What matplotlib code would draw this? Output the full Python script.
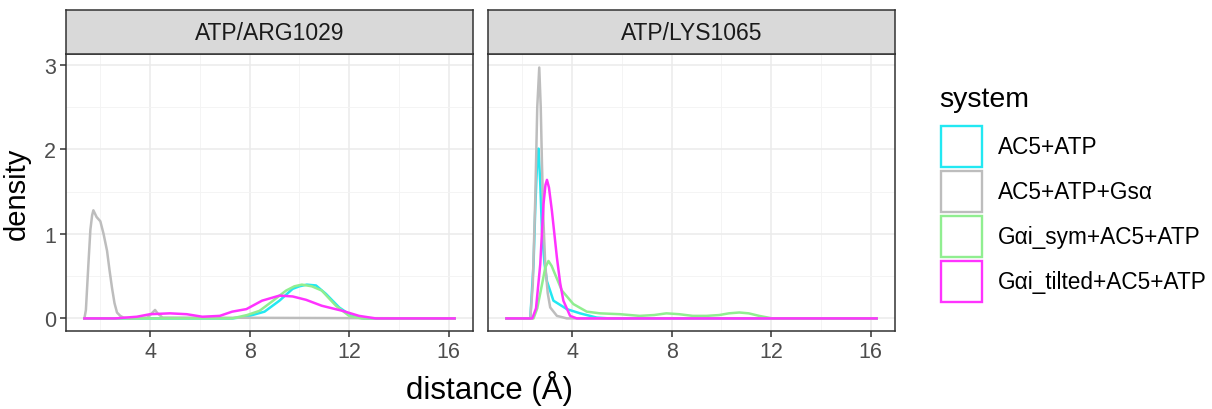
import matplotlib
matplotlib.use("Agg")
import matplotlib.pyplot as plt
from matplotlib.patches import Rectangle
from matplotlib.ticker import MultipleLocator

plt.rcParams['font.family'] = ['Liberation Sans', 'DejaVu Sans']

panels = ["ATP/ARG1029", "ATP/LYS1065"]
systems = ["AC5+ATP", "AC5+ATP+Gs\u03b1", "G\u03b1i_sym+AC5+ATP", "G\u03b1i_tilted+AC5+ATP"]
colors = ["#22E8F2", "#BDBDBD", "#90EE90", "#FF33FF"]

# ATP/ARG1029 density curves (x, y)
arg_cyan_x = [1.36, 7.3, 7.87, 8.6, 9.2, 9.73, 10.0, 10.3, 10.67, 11.07, 11.6, 12.1, 12.6, 16.24]
arg_cyan_y = [0.0, 0.0, 0.02, 0.08, 0.21, 0.35, 0.38, 0.40, 0.39, 0.29, 0.13, 0.03, 0.0, 0.0]
arg_gray_x = [1.36, 1.42, 1.52, 1.6, 1.67, 1.72, 1.85, 2.0, 2.13, 2.27, 2.37, 2.47, 2.57, 2.67, 2.8, 2.93, 3.2, 3.9, 4.1, 4.2, 4.3, 4.5, 16.24]
arg_gray_y = [0.0, 0.1, 0.64, 1.05, 1.22, 1.28, 1.2, 1.15, 1.0, 0.8, 0.57, 0.36, 0.18, 0.07, 0.03, 0.01, 0.0, 0.01, 0.07, 0.1, 0.06, 0.01, 0.0]
arg_green_x = [1.36, 7.3, 7.9, 8.4, 8.9, 9.47, 9.8, 10.1, 10.5, 10.9, 11.47, 12.0, 12.5, 16.24]
arg_green_y = [0.0, 0.0, 0.04, 0.09, 0.2, 0.33, 0.38, 0.40, 0.38, 0.33, 0.15, 0.03, 0.0, 0.0]
arg_mag_x = [1.36, 2.6, 3.47, 4.0, 4.8, 5.47, 6.1, 6.8, 7.3, 7.87, 8.5, 9.2, 9.73, 10.27, 10.9, 11.73, 12.4, 13.07, 16.24]
arg_mag_y = [0.0, 0.0, 0.02, 0.05, 0.06, 0.05, 0.02, 0.03, 0.08, 0.11, 0.21, 0.27, 0.26, 0.22, 0.15, 0.09, 0.03, 0.0, 0.0]

# ATP/LYS1065 density curves (x, y)
lys_cyan_x = [1.36, 2.32, 2.45, 2.52, 2.59, 2.65, 2.72, 2.79, 2.89, 2.99, 3.25, 3.79, 4.32, 4.99, 5.5, 16.24]
lys_cyan_y = [0.0, 0.0, 0.64, 1.3, 1.82, 2.01, 1.6, 1.03, 0.65, 0.44, 0.21, 0.11, 0.06, 0.01, 0.0, 0.0]
lys_gray_x = [1.36, 2.32, 2.42, 2.52, 2.6, 2.68, 2.74, 2.79, 2.85, 2.92, 3.02, 3.12, 3.39, 3.79, 16.24]
lys_gray_y = [0.0, 0.0, 0.4, 1.42, 2.5, 2.97, 2.5, 1.82, 1.15, 0.64, 0.3, 0.13, 0.03, 0.0, 0.0]
lys_green_x = [1.36, 2.45, 2.6, 2.79, 2.92, 3.05, 3.18, 3.32, 3.59, 4.05, 4.59, 5.12, 5.92, 6.72, 7.3, 7.79, 8.3, 8.85, 9.4, 9.92, 10.3, 10.72, 11.1, 11.52, 12.05, 16.24]
lys_green_y = [0.0, 0.0, 0.12, 0.40, 0.6, 0.68, 0.62, 0.52, 0.33, 0.17, 0.08, 0.06, 0.05, 0.03, 0.04, 0.06, 0.05, 0.03, 0.03, 0.04, 0.06, 0.07, 0.06, 0.03, 0.0, 0.0]
lys_mag_x = [1.36, 2.4, 2.55, 2.72, 2.85, 2.93, 2.99, 3.07, 3.19, 3.39, 3.52, 3.65, 3.92, 4.19, 16.24]
lys_mag_y = [0.0, 0.0, 0.12, 0.64, 1.35, 1.58, 1.64, 1.55, 1.27, 0.72, 0.42, 0.21, 0.03, 0.0, 0.0]

curves = [
    [(arg_cyan_x, arg_cyan_y), (arg_gray_x, arg_gray_y), (arg_green_x, arg_green_y), (arg_mag_x, arg_mag_y)],
    [(lys_cyan_x, lys_cyan_y), (lys_gray_x, lys_gray_y), (lys_green_x, lys_green_y), (lys_mag_x, lys_mag_y)],
]

x_ticks = [4, 8, 12, 16]
y_ticks = [0, 1, 2, 3]

W, H = 1212, 410
fig = plt.figure(figsize=(W / 100, H / 100), dpi=100)

panel_px = [(66, 473), (488, 895)]
top_px, bot_px = 55, 332
strip_top = 11

for i, (x0, x1) in enumerate(panel_px):
    ax = fig.add_axes([x0 / W, 1 - bot_px / H, (x1 - x0) / W, (bot_px - top_px) / H])
    ax.set_xlim(0.62, 16.98)
    ax.set_ylim(-0.149, 3.13)
    ax.set_facecolor("white")
    ax.xaxis.set_major_locator(MultipleLocator(4))
    ax.xaxis.set_minor_locator(MultipleLocator(2))
    ax.yaxis.set_major_locator(MultipleLocator(1))
    ax.yaxis.set_minor_locator(MultipleLocator(0.5))
    ax.set_xticks(x_ticks)
    ax.set_yticks(y_ticks)
    ax.grid(which="major", color="#EBEBEB", lw=1.1)
    ax.grid(which="minor", color="#F3F3F3", lw=0.6)
    ax.set_axisbelow(True)
    ax.tick_params(which="minor", length=0)
    ax.tick_params(which="major", length=4, width=1.1, color="#333333",
                   labelsize=15.5, labelcolor="#4D4D4D", pad=3)
    if i > 0:
        ax.tick_params(axis="y", which="both", left=False, labelleft=False)
    for s in ax.spines.values():
        s.set_color("#333333")
        s.set_linewidth(1.1)
    for (xs, ys), c in zip(curves[i], colors):
        ax.plot(xs, ys, color=c, lw=1.8, solid_joinstyle="round")
    # strip
    sax = fig.add_axes([x0 / W, 1 - top_px / H, (x1 - x0) / W, (top_px - strip_top) / H])
    sax.set_facecolor("#D9D9D9")
    sax.set_xticks([])
    sax.set_yticks([])
    for s in sax.spines.values():
        s.set_color("#333333")
        s.set_linewidth(1.1)
    sax.text(0.5, 0.48, panels[i], ha="center", va="center", fontsize=16.5,
             color="#1A1A1A", transform=sax.transAxes)

fig.text(17 / W, 1 - 194 / H, "density", rotation=90, ha="center", va="center", fontsize=21)
fig.text(490 / W, 1 - 389 / H, "distance (\u00c5)", ha="center", va="center", fontsize=22.5)

# legend
fig.text(939 / W, 1 - 100 / H, "system", ha="left", va="center", fontsize=20.5)
key_top = 127
for k, (name, c) in enumerate(zip(systems, colors)):
    yt = key_top + k * 45
    fig.patches.append(Rectangle((941 / W, 1 - (yt + 41) / H), 41 / W, 41 / H,
                                 transform=fig.transFigure, fill=False,
                                 edgecolor=c, lw=1.7))
    fig.text(998 / W, 1 - (yt + 20.5) / H, name, ha="left", va="center", fontsize=16.3)

fig.savefig("out.png", dpi=100, facecolor="white")
